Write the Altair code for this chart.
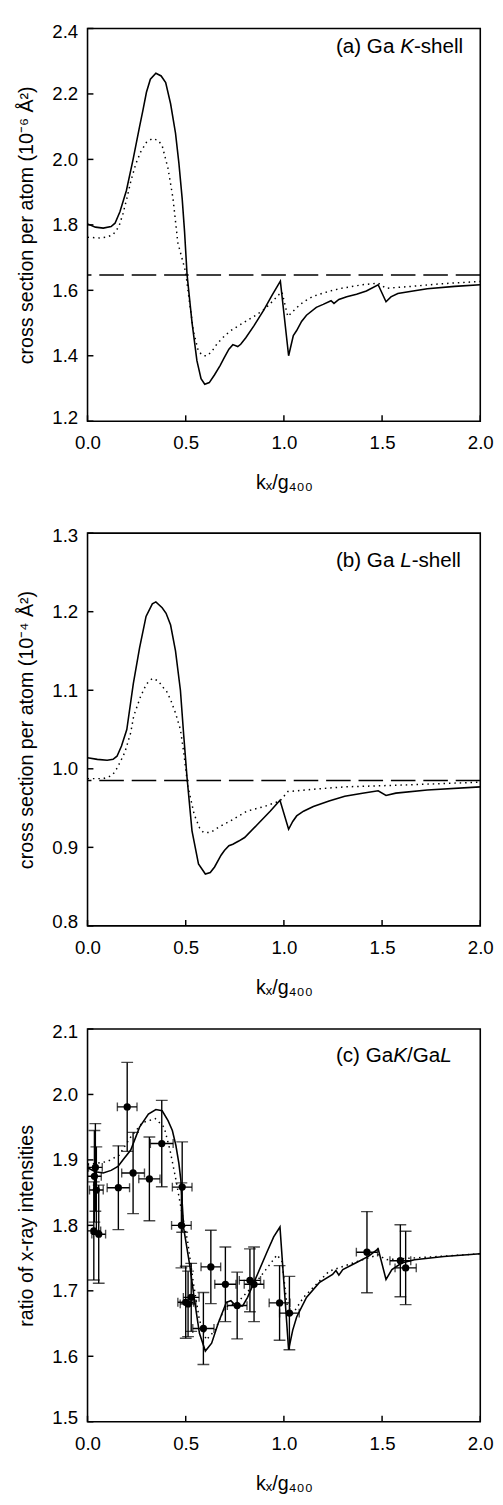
import altair as alt
import pandas as pd

FONT = "Liberation Sans"

# ---------------- data ----------------
X_TICKS = [0.0, 0.5, 1.0, 1.5, 2.0]

# (a) Ga K-shell
a_solid_x = [0.00, 0.04, 0.08, 0.12, 0.14, 0.165, 0.198, 0.232, 0.265, 0.282, 0.30, 0.32, 0.348,
             0.375, 0.398, 0.423, 0.448, 0.465, 0.482, 0.494, 0.507, 0.532, 0.557, 0.578, 0.597,
             0.62, 0.647, 0.675, 0.697, 0.72, 0.74, 0.765, 0.78, 0.806, 0.848, 0.898, 0.94, 0.982,
             1.024, 1.048, 1.065, 1.09, 1.115, 1.165, 1.20, 1.24, 1.255, 1.28, 1.32, 1.37, 1.42,
             1.48, 1.52, 1.545, 1.58, 1.65, 1.73, 1.87, 2.00]
a_solid_y = [1.803, 1.793, 1.790, 1.795, 1.805, 1.840, 1.905, 2.000, 2.100, 2.150, 2.205, 2.245, 2.263,
             2.255, 2.235, 2.170, 2.080, 1.990, 1.880, 1.780, 1.647, 1.502, 1.385, 1.330, 1.313,
             1.318, 1.342, 1.370, 1.395, 1.420, 1.434, 1.428, 1.435, 1.455, 1.492, 1.540, 1.585, 1.628,
             1.400, 1.462, 1.477, 1.505, 1.524, 1.548, 1.557, 1.568, 1.560, 1.572, 1.580, 1.588, 1.598,
             1.617, 1.565, 1.580, 1.590, 1.597, 1.605, 1.612, 1.617]
a_dot_x = [0.00, 0.06, 0.10, 0.13, 0.16, 0.18, 0.20, 0.22, 0.245, 0.27, 0.30, 0.33, 0.36, 0.38, 0.41,
           0.435, 0.46, 0.48, 0.50, 0.52, 0.54, 0.565, 0.59, 0.61, 0.635, 0.66, 0.70, 0.73, 0.77,
           0.81, 0.86, 0.90, 0.94, 0.975, 0.99, 1.02, 1.065, 1.10, 1.15, 1.23, 1.30, 1.40, 1.48,
           1.52, 1.58, 1.65, 1.80, 2.00]
a_dot_y = [1.762, 1.760, 1.763, 1.770, 1.795, 1.833, 1.880, 1.932, 1.985, 2.022, 2.052, 2.064, 2.058,
           2.042, 1.972, 1.882, 1.745, 1.700, 1.655, 1.560, 1.473, 1.413, 1.400, 1.400, 1.415, 1.437,
           1.462, 1.477, 1.492, 1.507, 1.525, 1.542, 1.565, 1.587, 1.595, 1.520, 1.547, 1.565, 1.582,
           1.597, 1.607, 1.617, 1.622, 1.606, 1.609, 1.612, 1.620, 1.627]
a_dash = 1.647
a_yticks = [1.2, 1.4, 1.6, 1.8, 2.0, 2.2, 2.4]

# (b) Ga L-shell
b_solid_x = [0.00, 0.05, 0.10, 0.13, 0.15, 0.173, 0.20, 0.233, 0.265, 0.298, 0.33, 0.348, 0.38, 0.40,
             0.423, 0.448, 0.473, 0.49, 0.507, 0.532, 0.565, 0.60, 0.625, 0.647, 0.68, 0.697, 0.72,
             0.74, 0.77, 0.80, 0.865, 0.93, 0.98, 1.024, 1.045, 1.065, 1.10, 1.15, 1.23, 1.31, 1.40,
             1.48, 1.52, 1.57, 1.73, 2.00]
b_solid_y = [1.014, 1.012, 1.011, 1.012, 1.016, 1.029, 1.050, 1.108, 1.154, 1.194, 1.210, 1.2125, 1.205,
             1.198, 1.183, 1.150, 1.100, 1.042, 0.988, 0.921, 0.879, 0.866, 0.868, 0.875, 0.890, 0.896,
             0.902, 0.904, 0.908, 0.9125, 0.929, 0.946, 0.960, 0.923, 0.933, 0.940, 0.946, 0.952, 0.959,
             0.965, 0.969, 0.972, 0.966, 0.969, 0.973, 0.977]
b_dot_x = [0.00, 0.08, 0.12, 0.14, 0.165, 0.19, 0.22, 0.235, 0.27, 0.30, 0.33, 0.36, 0.39, 0.40, 0.423,
           0.448, 0.473, 0.49, 0.51, 0.543, 0.57, 0.59, 0.627, 0.67, 0.73, 0.81, 0.90, 0.98, 1.02,
           1.15, 1.31, 1.57, 2.00]
b_dot_y = [0.9875, 0.9875, 0.991, 0.996, 1.008, 1.021, 1.046, 1.067, 1.092, 1.108, 1.115, 1.112, 1.102,
           1.100, 1.088, 1.071, 1.050, 1.021, 0.979, 0.942, 0.925, 0.919, 0.919, 0.926, 0.934, 0.946,
           0.952, 0.959, 0.971, 0.974, 0.977, 0.979, 0.983]
b_dash = 0.985
b_yticks = [0.8, 0.9, 1.0, 1.1, 1.2, 1.3]

# (c) GaK/GaL
c_solid_x = [0.00, 0.04, 0.08, 0.12, 0.155, 0.18, 0.22, 0.265, 0.31, 0.348, 0.38, 0.41, 0.432, 0.45,
             0.465, 0.475, 0.49, 0.52, 0.545, 0.57, 0.60, 0.632, 0.665, 0.707, 0.73, 0.755, 0.79,
             0.815, 0.865, 0.915, 0.948, 0.98, 1.024, 1.045, 1.065, 1.115, 1.18, 1.248, 1.265, 1.28,
             1.30, 1.365, 1.43, 1.48, 1.52, 1.55, 1.60, 1.665, 1.815, 2.00]
c_solid_y = [1.888, 1.882, 1.880, 1.884, 1.890, 1.900, 1.915, 1.950, 1.970, 1.977, 1.975, 1.960, 1.945,
             1.922, 1.895, 1.870, 1.795, 1.740, 1.685, 1.635, 1.608, 1.620, 1.650, 1.6825, 1.685, 1.677,
             1.677, 1.690, 1.725, 1.760, 1.7825, 1.7975, 1.610, 1.640, 1.660, 1.690, 1.7125, 1.725,
             1.731, 1.724, 1.7325, 1.7425, 1.7525, 1.764, 1.7175, 1.7325, 1.7425, 1.7475, 1.7525, 1.7565]
c_dot_x = [0.00, 0.05, 0.10, 0.16, 0.22, 0.28, 0.345, 0.39, 0.42, 0.45, 0.48, 0.51, 0.54, 0.57, 0.605,
           0.65, 0.70, 0.765, 0.85, 0.915, 0.965, 0.99, 1.015, 1.045, 1.10, 1.165, 1.23, 1.40, 1.48,
           1.52, 1.65, 2.00]
c_dot_y = [1.893, 1.895, 1.8975, 1.907, 1.935, 1.957, 1.963, 1.950, 1.915, 1.870, 1.820, 1.775, 1.710,
           1.655, 1.625, 1.640, 1.675, 1.6825, 1.710, 1.735, 1.755, 1.745, 1.680, 1.665, 1.690, 1.710,
           1.730, 1.7475, 1.755, 1.7475, 1.750, 1.7565]
c_yticks = [1.5, 1.6, 1.7, 1.8, 1.9, 2.0, 2.1]

# measured points with error bars (c)
pt_x = [0.032, 0.035, 0.040, 0.045, 0.057, 0.157, 0.202, 0.232, 0.315, 0.378, 0.478, 0.482, 0.500,
        0.512, 0.528, 0.590, 0.628, 0.702, 0.762, 0.827, 0.848, 0.978, 1.028, 1.423, 1.593, 1.620]
pt_y = [1.7915, 1.875, 1.8885, 1.854, 1.7865, 1.8575, 1.981, 1.880, 1.871, 1.925, 1.800, 1.8585, 1.6825,
        1.680, 1.690, 1.6425, 1.7365, 1.710, 1.6775, 1.716, 1.710, 1.6815, 1.666, 1.759, 1.746, 1.735]
pt_yerr = [0.075, 0.070, 0.067, 0.066, 0.075, 0.064, 0.068, 0.062, 0.064, 0.066, 0.065, 0.069, 0.055,
           0.050, 0.052, 0.055, 0.056, 0.057, 0.051, 0.048, 0.057, 0.057, 0.056, 0.062, 0.055, 0.056]
pt_xerr = [0.035, 0.035, 0.035, 0.035, 0.035, 0.057, 0.050, 0.058, 0.054, 0.058, 0.050, 0.050, 0.040,
           0.040, 0.040, 0.054, 0.050, 0.054, 0.050, 0.054, 0.050, 0.053, 0.050, 0.054, 0.053, 0.054]

# ---------------- chart ----------------
W, H = 400, 400
X_TITLE = "kₓ/g₄₀₀"


def panel(solid_x, solid_y, dot_x, dot_y, dash_y, ydom, yticks, ytitle, label_parts, label_y,
          points=None):
    xsc = alt.Scale(domain=[0, 2], nice=False, zero=False)
    ysc = alt.Scale(domain=ydom, nice=False, zero=False)
    xax = alt.Axis(values=X_TICKS, format=".1f", title=X_TITLE, labelFlush=False)
    yax = alt.Axis(values=yticks, format=".1f", title=ytitle, labelFlush=True, labelFlushOffset=6)

    def X(f):
        return alt.X(f"{f}:Q", scale=xsc, axis=xax)

    def Y(f):
        return alt.Y(f"{f}:Q", scale=ysc, axis=yax)

    solid = alt.Chart(pd.DataFrame({"x": solid_x, "y": solid_y})).mark_line(
        color="black", strokeWidth=1.6, clip=True
    ).encode(x=X("x"), y=Y("y"))

    dotted = alt.Chart(pd.DataFrame({"x": dot_x, "y": dot_y})).mark_line(
        color="black", strokeWidth=1.5, strokeDash=[1.5, 4], clip=True
    ).encode(x=X("x"), y=Y("y"))

    layers = [solid, dotted]

    if dash_y is not None:
        dash = alt.Chart(pd.DataFrame({"y": [dash_y]})).mark_rule(
            color="black", strokeWidth=1.5, strokeDash=[25, 8]
        ).encode(y=Y("y"))
        layers.append(dash)

    # inward tick marks
    xt = alt.Chart(pd.DataFrame({"x": X_TICKS})).mark_rule(color="black", strokeWidth=1.5).encode(
        x=X("x"), y=alt.value(H), y2=alt.value(H - 6))
    yt = alt.Chart(pd.DataFrame({"y": yticks})).mark_rule(color="black", strokeWidth=1.5).encode(
        y=Y("y"), x=alt.value(0), x2=alt.value(6))
    layers += [xt, yt]

    if points is not None:
        px, py, pye, pxe = points
        df = pd.DataFrame({"x": px, "y": py})
        df["ylo"] = [a - b for a, b in zip(py, pye)]
        df["yhi"] = [a + b for a, b in zip(py, pye)]
        df["xlo"] = [a - b for a, b in zip(px, pxe)]
        df["xhi"] = [a + b for a, b in zip(px, pxe)]
        base = alt.Chart(df)
        layers += [
            base.mark_rule(color="black", strokeWidth=1.4, clip=True).encode(
                x=X("x"), y=Y("ylo"), y2="yhi"),
            base.mark_tick(color="black", orient="horizontal", size=12, thickness=1.4, clip=True).encode(
                x=X("x"), y=Y("ylo")),
            base.mark_tick(color="black", orient="horizontal", size=12, thickness=1.4, clip=True).encode(
                x=X("x"), y=Y("yhi")),
            base.mark_rule(color="black", strokeWidth=1.4, clip=True).encode(
                y=Y("y"), x=X("xlo"), x2="xhi"),
            base.mark_tick(color="black", orient="vertical", size=9, thickness=1.4, clip=True).encode(
                x=X("xlo"), y=Y("y")),
            base.mark_tick(color="black", orient="vertical", size=9, thickness=1.4, clip=True).encode(
                x=X("xhi"), y=Y("y")),
            base.mark_circle(color="black", size=55, opacity=1).encode(x=X("x"), y=Y("y")),
        ]

    dummy = pd.DataFrame({"a": [0]})
    for text, xpos, italic in label_parts:
        layers.append(
            alt.Chart(dummy).mark_text(
                text=text, align="left", baseline="middle", font=FONT, fontSize=21,
                fontStyle="italic" if italic else "normal", color="black"
            ).encode(x=alt.value(xpos), y=alt.value(label_y))
        )

    return alt.layer(*layers).properties(width=W, height=H)


pa = panel(a_solid_x, a_solid_y, a_dot_x, a_dot_y, a_dash, [1.2, 2.4], a_yticks,
           "cross section per atom (10⁻⁶ Å²)",
           [("(a) Ga", 253, False), ("K", 318.4, True), ("-shell", 332.4, False)], 19)
pb = panel(b_solid_x, b_solid_y, b_dot_x, b_dot_y, b_dash, [0.8, 1.3], b_yticks,
           "cross section per atom (10⁻⁴ Å²)",
           [("(b) Ga", 253, False), ("L", 318.4, True), ("-shell", 330.1, False)], 28)
pc = panel(c_solid_x, c_solid_y, c_dot_x, c_dot_y, None, [1.5, 2.1], c_yticks,
           "ratio of x-ray intensities",
           [("(c) Ga", 253, False), ("K", 311.3, True), ("/Ga", 325.3, False), ("L", 359.2, True)], 28,
           points=(pt_x, pt_y, pt_yerr, pt_xerr))

top = alt.vconcat(pa, pb, spacing=33)
chart = alt.vconcat(top, pc, spacing=24).properties(
    padding={"left": 7, "top": 0, "right": 0, "bottom": 0}
).configure_view(
    stroke="black", strokeWidth=1.6
).configure_axis(
    labelFont=FONT, titleFont=FONT, labelFontSize=19, titleFontSize=20, titleFontWeight="normal",
    labelColor="black", titleColor="black", ticks=False, tickSize=0, domain=False, grid=False,
    labelPadding=10
).configure_axisX(
    labelPadding=13, titlePadding=21
).configure_axisY(
    titlePadding=16
)

chart.save("out.html", embed_options={"renderer": "svg", "actions": False})
